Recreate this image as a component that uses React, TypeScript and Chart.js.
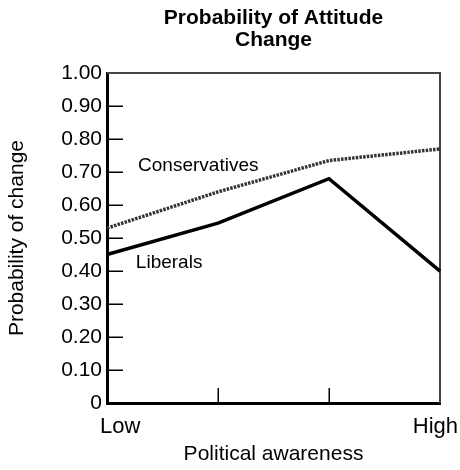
import React, { useEffect, useRef } from 'react';
import { Chart, registerables } from 'chart.js';

Chart.register(...registerables);

const categories = ['Low', '', '', 'High'];
const liberals = [0.45, 0.545, 0.68, 0.4];
const conservatives = [0.53, 0.64, 0.735, 0.77];
const yTickLabels = ['0', '0.10', '0.20', '0.30', '0.40', '0.50', '0.60', '0.70', '0.80', '0.90', '1.00'];
const titleLines = ['Probability of Attitude', 'Change'];
const xTitle = 'Political awareness';
const yTitle = 'Probability of change';
const seriesNames = ['Liberals', 'Conservatives'];

const FONT = "'Liberation Sans', Arial, Helvetica, sans-serif";

const decor = {
  id: 'decor',
  beforeDatasetsDraw(chart: any) {
    const { ctx, chartArea: a, scales } = chart;
    const x = scales.x;
    const y = scales.y;
    ctx.save();
    ctx.strokeStyle = '#000';
    ctx.lineWidth = 1.5;
    ctx.beginPath();
    y.ticks.forEach((t: any) => {
      if (t.value <= 0 || t.value >= 1) return;
      const py = Math.round(y.getPixelForValue(t.value)) + 0.25;
      ctx.moveTo(a.left, py);
      ctx.lineTo(a.left + 16, py);
    });
    for (let i = 1; i < categories.length - 1; i++) {
      const px = Math.round(x.getPixelForValue(i)) + 0.25;
      ctx.moveTo(px, a.bottom);
      ctx.lineTo(px, a.bottom - 15);
    }
    ctx.stroke();
    ctx.strokeStyle = '#444';
    ctx.lineWidth = 2;
    ctx.beginPath();
    ctx.moveTo(a.left, a.top);
    ctx.lineTo(a.right, a.top);
    ctx.lineTo(a.right, a.bottom);
    ctx.stroke();
    ctx.restore();
  },
  afterDatasetsDraw(chart: any) {
    const { ctx, chartArea: a, scales } = chart;
    const x = scales.x;
    const y = scales.y;
    ctx.save();
    ctx.fillStyle = '#000';
    ctx.font = `19px ${FONT}`;
    ctx.textBaseline = 'middle';
    ctx.textAlign = 'left';
    ctx.fillText(seriesNames[1], x.getPixelForValue(0.28), y.getPixelForValue(0.72));
    ctx.fillText(seriesNames[0], x.getPixelForValue(0.26), y.getPixelForValue(0.425));
    ctx.font = `22px ${FONT}`;
    const ly = a.bottom + 24;
    ctx.textAlign = 'left';
    ctx.fillText(categories[0], x.getPixelForValue(0) - 7, ly);
    ctx.textAlign = 'right';
    ctx.fillText(categories[categories.length - 1], x.getPixelForValue(categories.length - 1) + 18, ly);
    ctx.restore();
  },
};

export default function App() {
  const ref = useRef<HTMLCanvasElement | null>(null);
  useEffect(() => {
    if (!ref.current) return;
    Chart.defaults.font.family = FONT;
    Chart.defaults.color = '#000';
    const chart = new Chart(ref.current, {
      type: 'line',
      data: {
        labels: categories,
        datasets: [
          {
            label: seriesNames[0],
            data: liberals,
            borderColor: '#000',
            borderWidth: 3.5,
            pointRadius: 0,
            tension: 0,
            clip: false as any,
          },
          {
            label: seriesNames[1],
            data: conservatives,
            borderColor: '#333',
            borderWidth: 3.5,
            borderDash: [2.5, 1.2],
            pointRadius: 0,
            tension: 0,
            clip: false as any,
          },
        ],
      },
      options: {
        responsive: false,
        animation: false,
        layout: { padding: { left: 0, right: 20, top: 0, bottom: 0 } },
        plugins: {
          legend: { display: false },
          tooltip: { enabled: false },
          title: {
            display: true,
            text: titleLines,
            fullSize: false,
            color: '#000',
            font: { size: 21, weight: 'bold', family: FONT, lineHeight: 1.05 },
            padding: { top: 7, bottom: 22 },
          },
        },
        scales: {
          x: {
            type: 'category',
            grid: { display: false, drawTicks: false },
            border: { display: true, color: '#000', width: 3 },
            ticks: { display: false },
            title: {
              display: true,
              text: xTitle,
              color: '#000',
              font: { size: 21, family: FONT, lineHeight: 1.2 },
              padding: { top: 0, bottom: 3 },
            },
            afterFit: (s: any) => {
              s.height = 67;
            },
          },
          y: {
            type: 'linear',
            min: 0,
            max: 1,
            grid: { display: false, drawTicks: false },
            border: { display: true, color: '#000', width: 3 },
            ticks: {
              stepSize: 0.1,
              autoSkip: false,
              padding: 5,
              color: '#000',
              font: { size: 21, family: FONT },
              callback: (_v: any, i: number) => yTickLabels[i],
            },
            title: {
              display: true,
              text: yTitle,
              color: '#000',
              font: { size: 21, family: FONT, lineHeight: 1.2 },
              padding: { top: 5, bottom: 0 },
            },
            afterFit: (s: any) => {
              s.width = 107;
            },
          },
        },
      },
      plugins: [decor],
    });
    return () => chart.destroy();
  }, []);
  return (
    <div style={{ position: 'fixed', left: 0, top: 0, width: 460, height: 470, background: '#fff' }}>
      <canvas ref={ref} width={460} height={470} style={{ display: 'block' }} />
    </div>
  );
}
